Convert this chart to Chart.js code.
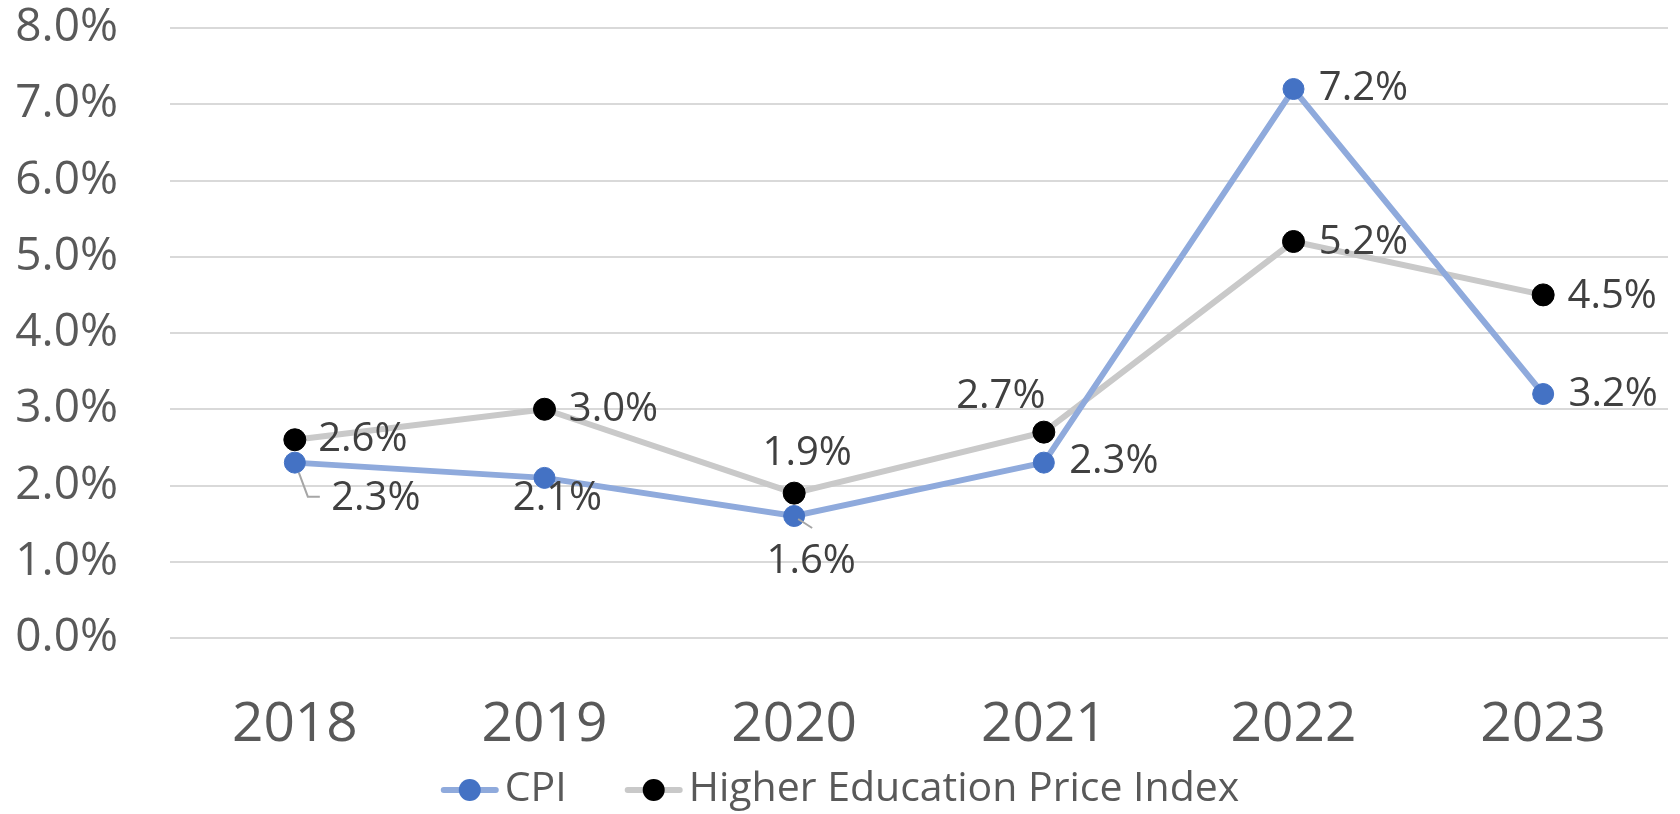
<!DOCTYPE html>
<html lang="en">
<head>
  <meta charset="UTF-8">
  <title>CPI vs Higher Education Price Index</title>
  <script src="https://cdn.jsdelivr.net/npm/chart.js"></script>
  <style>
    html, body {
      margin: 0;
      padding: 0;
      background: #ffffff;
    }

    .chart-container {
      width: 1680px;
      height: 814px;
    }
  </style>
</head>
<body>

  <div class="chart-container">
    <canvas id="inflationChart" width="1680" height="814"></canvas>
  </div>

  <script>
    // values
    const years = ['2018', '2019', '2020', '2021', '2022', '2023'];
    const cpiValues = [2.3, 2.1, 1.6, 2.3, 7.2, 3.2];
    const hepiValues = [2.6, 3.0, 1.9, 2.7, 5.2, 4.5];
    const yTickLabels = ['0.0%', '1.0%', '2.0%', '3.0%', '4.0%', '5.0%', '6.0%', '7.0%', '8.0%'];

    // where each data label sits relative to its point (px)
    const cpiLabelOffsets = [[81, 37], [13, 22], [17, 47], [70, 0], [70, 1], [70, 2]];
    const hepiLabelOffsets = [[68, 1], [69, 1], [13, -39], [-43, -35], [70, 2], [69, 3]];
    // leader lines (point-relative polylines), only where Excel drew them
    const cpiLeaders = { 0: [[4, 10], [13, 34], [25, 34]], 2: [[4, 3], [18, 12]] };

    const FONT = "'Open Sans', 'Noto Sans', sans-serif";

    const dataLabels = {
      id: 'dataLabels',
      afterDatasetsDraw(chart) {
        const ctx = chart.ctx;
        ctx.save();
        chart.data.datasets.forEach((ds, di) => {
          const meta = chart.getDatasetMeta(di);
          meta.data.forEach((pt, i) => {
            const off = ds.labelOffsets[i];
            const leader = ds.leaders && ds.leaders[i];
            if (leader) {
              ctx.strokeStyle = '#a6a6a6';
              ctx.lineWidth = 2;
              ctx.beginPath();
              leader.forEach((p, k) => {
                if (k === 0) ctx.moveTo(pt.x + p[0], pt.y + p[1]);
                else ctx.lineTo(pt.x + p[0], pt.y + p[1]);
              });
              ctx.stroke();
            }
            ctx.fillStyle = '#404040';
            ctx.font = `40px ${FONT}`;
            ctx.textAlign = 'center';
            ctx.textBaseline = 'middle';
            ctx.fillText(ds.data[i].toFixed(1) + '%', pt.x + off[0], pt.y + off[1] - 1);
          });
        });
        ctx.restore();
      }
    };

    const lineLegend = {
      id: 'lineLegend',
      afterDraw(chart) {
        const ctx = chart.ctx;
        const y = 790;
        const symW = 58, gap = 6, itemGap = 58;
        ctx.save();
        ctx.font = `41px ${FONT}`;
        const items = chart.data.datasets.map(ds => ({ ds, w: ctx.measureText(ds.label).width }));
        const total = items.reduce((s, it) => s + symW + gap + it.w, 0) + itemGap * (items.length - 1);
        let x = chart.width / 2 - total / 2;
        items.forEach(it => {
          ctx.strokeStyle = it.ds.borderColor;
          ctx.lineWidth = it.ds.borderWidth;
          ctx.lineCap = 'round';
          ctx.beginPath();
          ctx.moveTo(x + 3, y);
          ctx.lineTo(x + symW - 3, y);
          ctx.stroke();
          ctx.fillStyle = it.ds.pointBackgroundColor;
          ctx.beginPath();
          ctx.arc(x + symW / 2, y, 11, 0, Math.PI * 2);
          ctx.fill();
          ctx.fillStyle = '#595959';
          ctx.textAlign = 'left';
          ctx.textBaseline = 'middle';
          ctx.fillText(it.ds.label, x + symW + gap, y - 1);
          x += symW + gap + it.w + itemGap;
        });
        ctx.restore();
      }
    };

    function drawChart() {
      const ctx = document.getElementById('inflationChart').getContext('2d');
      new Chart(ctx, {
        type: 'line',
        data: {
          labels: years,
          datasets: [
            {
              label: 'CPI',
              data: cpiValues,
              borderColor: '#8faadc',
              borderWidth: 6,
              pointBackgroundColor: '#4472c4',
              pointBorderColor: '#4472c4',
              pointBorderWidth: 1,
              pointRadius: 10.5,
              tension: 0,
              labelOffsets: cpiLabelOffsets,
              leaders: cpiLeaders
            },
            {
              label: 'Higher Education Price Index',
              data: hepiValues,
              borderColor: '#c9c9c9',
              borderWidth: 6,
              pointBackgroundColor: '#000000',
              pointBorderColor: '#000000',
              pointBorderWidth: 1,
              pointRadius: 11,
              tension: 0,
              labelOffsets: hepiLabelOffsets
            }
          ]
        },
        options: {
          responsive: false,
          animation: false,
          layout: { padding: { top: 28, right: 2, left: 0, bottom: 0 } },
          plugins: {
            legend: { display: false },
            tooltip: { enabled: false }
          },
          scales: {
            x: {
              offset: true,
              grid: { display: false, drawTicks: false },
              border: { display: false },
              ticks: {
                padding: 54,
                color: '#595959',
                font: { family: FONT, size: 55 }
              },
              afterFit(axis) { axis.height = 176; }
            },
            y: {
              min: 0,
              max: 8,
              grid: { color: '#d9d9d9', lineWidth: 2, drawTicks: false },
              border: { display: false },
              ticks: {
                stepSize: 1,
                padding: 52,
                color: '#595959',
                font: { family: FONT, size: 46 },
                callback: (v, i) => yTickLabels[i]
              },
              afterFit(axis) {
                axis.width = 170;
                axis.paddingTop = 0;
                axis.paddingBottom = 0;
              }
            }
          }
        },
        plugins: [dataLabels, lineLegend]
      });
    }

    drawChart();
  </script>

</body>
</html>
